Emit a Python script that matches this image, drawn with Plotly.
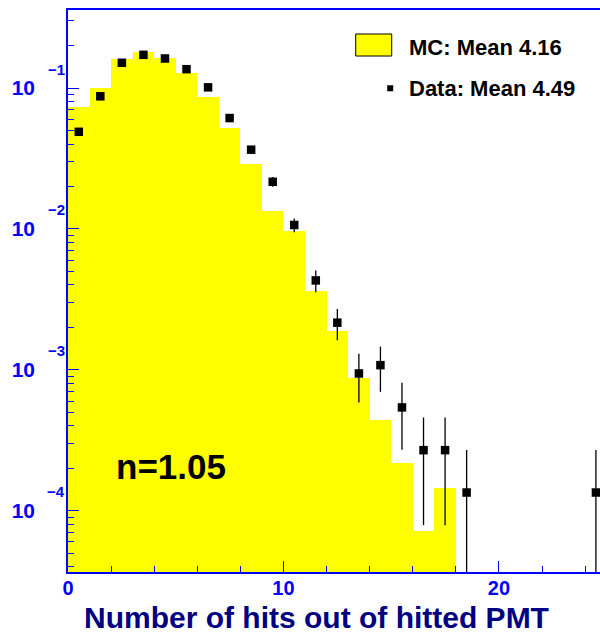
import math
import plotly.graph_objects as go

# ---- data ----
mc_bin_center = [0.5, 1.5, 2.5, 3.5, 4.5, 5.5, 6.5, 7.5, 8.5, 9.5,
                 10.5, 11.5, 12.5, 13.5, 14.5, 15.5, 16.5, 17.5]
mc_values = [0.0736, 0.0995, 0.160, 0.180, 0.163, 0.127, 0.0859, 0.0523,
             0.0290, 0.01343, 0.00964, 0.00365, 0.001897, 0.000873,
             0.000437, 0.000217, 0.0000723, 0.000145]

data_x = [0.5, 1.5, 2.5, 3.5, 4.5, 5.5, 6.5, 7.5, 8.5, 9.5,
          10.5, 11.5, 12.5, 13.5, 14.5, 15.5, 16.5, 17.5, 18.5, 24.5]
data_y = [0.0489, 0.0873, 0.151, 0.172, 0.162, 0.136, 0.1011, 0.0612,
          0.0365, 0.0216, 0.01066, 0.00431, 0.00216, 0.000942, 0.001079,
          0.000541, 0.000269, 0.000269, 0.0001346, 0.0001346]
data_err = [0.00257, 0.00343, 0.00451, 0.00481, 0.00467, 0.00428, 0.00369,
            0.00287, 0.00222, 0.00171, 0.00120, 0.000762, 0.00054,
            0.000356, 0.000381, 0.00027, 0.00019, 0.00019, 0.0001346,
            0.0001346]

x_tick_vals = [0, 10, 20]
x_tick_text = ["0", "10", "20"]
y_tick_vals = [1e-4, 1e-3, 1e-2, 1e-1]
y_tick_base = ["10", "10", "10", "10"]
y_tick_exp = ["\u22124", "\u22123", "\u22122", "\u22121"]
y_minor_vals = [m * 10.0 ** e for e in (-5, -4, -3, -2, -1)
                for m in (2, 3, 4, 5, 6, 7, 8, 9)]

mc_label = "MC: Mean 4.16"
data_label = "Data: Mean 4.49"
note = "n=1.05"
x_title = "Number of hits out of hitted PMT"

FONT = "Liberation Sans, Arial, Helvetica, sans-serif"
BLUE = "#0000ff"

fig = go.Figure()
fig.add_trace(go.Bar(
    x=mc_bin_center, y=mc_values, width=1.0,
    marker=dict(color="#ffff00", line=dict(width=0)),
    name=mc_label, showlegend=False,
))
fig.add_trace(go.Scatter(
    x=data_x, y=data_y, mode="markers",
    marker=dict(symbol="square", size=8.5, color="black"),
    error_y=dict(type="data", array=data_err, visible=True,
                 color="black", thickness=1.3, width=0),
    cliponaxis=False, name=data_label, showlegend=False,
))

fig.update_layout(
    width=600, height=636,
    margin=dict(l=68, r=0, t=10, b=64),
    paper_bgcolor="white", plot_bgcolor="white",
    bargap=0,
    font=dict(family=FONT),
    xaxis=dict(
        range=[0, 24.69], showgrid=False, zeroline=False,
        showline=True, linecolor=BLUE, linewidth=1.5, mirror=True,
        ticks="inside", ticklen=11, tickcolor=BLUE, tickwidth=1.2,
        tickmode="array", tickvals=x_tick_vals, ticktext=x_tick_text,
        ticklabelstandoff=-3,
        tickfont=dict(family=FONT, size=20, color=BLUE, weight="bold"),
        minor=dict(ticks="inside", ticklen=6, dtick=2, tick0=0,
                   tickcolor=BLUE, tickwidth=1.2, showgrid=False),
        automargin=False,
    ),
    yaxis=dict(
        type="log", range=[-4.435, -0.4464], showgrid=False, zeroline=False,
        showline=True, linecolor=BLUE, linewidth=1.5,
        ticks="inside", ticklen=11, tickcolor=BLUE, tickwidth=1.2,
        tickmode="array", tickvals=y_tick_vals, ticktext=y_tick_base,
        ticklabelstandoff=27,
        tickfont=dict(family=FONT, size=21, color=BLUE, weight="bold"),
        minor=dict(ticks="inside", ticklen=6, tickvals=y_minor_vals,
                   tickcolor=BLUE, tickwidth=1.2, showgrid=False),
        automargin=False,
    ),
)

# exponents of the y tick labels (ROOT style, raised well above the "10")
for v, e in zip(y_tick_vals, y_tick_exp):
    fig.add_annotation(xref="paper", yref="y", x=0, y=math.log10(v),
                       xanchor="right", yanchor="middle", xshift=-1,
                       yshift=19, showarrow=False, text=e,
                       font=dict(family=FONT, size=15, color=BLUE,
                                 weight="bold"))

# x axis title (ROOT right-aligns it on the full axis, shifted left here)
fig.add_annotation(xref="paper", yref="paper", x=0.468, y=-0.0810,
                   xanchor="center", yanchor="middle", showarrow=False,
                   text=x_title,
                   font=dict(family=FONT, size=30, color="#000080",
                             weight="bold"))

# legend drawn manually (ROOT-style TLegend)
fig.add_shape(type="rect", xref="paper", yref="paper",
              x0=0.5408, x1=0.6085, y0=0.9181, y1=0.9573,
              fillcolor="#ffff00", line=dict(color="black", width=1))
fig.add_shape(type="rect", xref="paper", yref="paper",
              x0=0.6000, x1=0.6113, y0=0.8554, y1=0.8661,
              fillcolor="black", line=dict(color="black", width=0))
fig.add_annotation(xref="paper", yref="paper", x=0.638, y=0.9324,
                   xanchor="left", yanchor="middle", showarrow=False,
                   text=mc_label,
                   font=dict(family=FONT, size=22, color="black", weight="bold"))
fig.add_annotation(xref="paper", yref="paper", x=0.638, y=0.8607,
                   xanchor="left", yanchor="middle", showarrow=False,
                   text=data_label,
                   font=dict(family=FONT, size=22, color="black", weight="bold"))
fig.add_annotation(xref="paper", yref="paper", x=0.1936, y=0.1886,
                   xanchor="center", yanchor="middle", showarrow=False,
                   text=note,
                   font=dict(family=FONT, size=35, color="black", weight="bold"))

fig.write_html("out.html")
